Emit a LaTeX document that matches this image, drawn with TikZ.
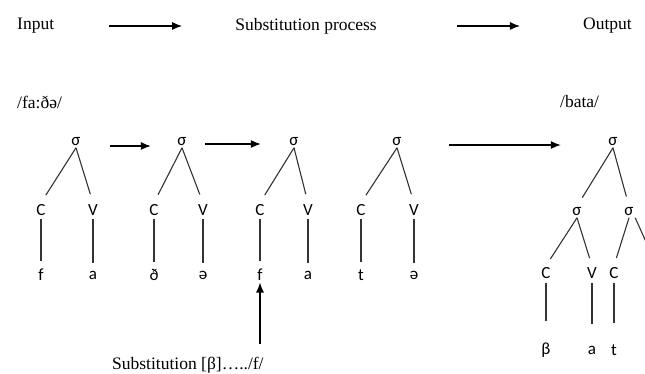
\documentclass[tikz,border=0pt]{standalone}
\usepackage{fontspec}
\setmainfont{Liberation Serif}
\newfontfamily\treefont{Carlito}
\usetikzlibrary{arrows.meta}
\tikzset{
  txt/.style={font=\fontsize{17.5}{20}\selectfont, inner sep=0pt},
  lab/.style={font=\treefont\fontsize{17}{19}\selectfont, inner sep=1.5pt},
  br/.style={line width=1.1pt, black!80},
  arr/.style={->, line width=1.1pt}
}
\begin{document}
\begin{tikzpicture}[x=1pt, y=-1pt, >={Latex[length=10pt,width=8pt]}]
\useasboundingbox (0,0) rectangle (645,374);

\node[txt, anchor=west] (in) at (17,26) {Input};
\node[txt] (sub) at (306,26) {Substitution process};
\node[txt, anchor=east] (out) at (632,26) {Output};
\draw[arr, shorten <=55pt, shorten >=53pt] (in) -- (sub);
\draw[arr, shorten <=80pt, shorten >=63pt] (sub) -- (out);

\node[txt, anchor=west] (uin) at (17,102) {/fa:ðə/};
\node[txt, anchor=west] (uout) at (560,102) {/bata/};

% input syllables
\node[lab] (s1) at (76,142) {σ};
\node[lab] (c1) at (41,210) {C};
\node[lab] (v1) at (93,210) {V};
\node[lab] (f1) at (41,275) {f};
\node[lab] (a1) at (93,275) {a};

\node[lab] (s2) at (182,142) {σ};
\node[lab] (c2) at (154,210) {C};
\node[lab] (v2) at (203,210) {V};
\node[lab] (f2) at (154,275) {ð};
\node[lab] (a2) at (203,275) {ə};

\node[lab] (s3) at (294,142) {σ};
\node[lab] (c3) at (260,210) {C};
\node[lab] (v3) at (308,210) {V};
\node[lab] (f3) at (260,275) {f};
\node[lab] (a3) at (308,275) {a};

\node[lab] (s4) at (397,142) {σ};
\node[lab] (c4) at (361,210) {C};
\node[lab] (v4) at (414,210) {V};
\node[lab] (f4) at (361,275) {t};
\node[lab] (a4) at (414,275) {ə};

\foreach \n in {1,2,3,4}{
  \draw[br, shorten >=9pt] (s\n.south) -- (c\n.north);
  \draw[br, shorten >=9pt] (s\n.south) -- (v\n.north);
  \draw[br, shorten <=2pt, shorten >=6pt] (c\n) -- (f\n);
  \draw[br, shorten <=2pt, shorten >=6pt] (v\n) -- (a\n);
}

% output syllables
\node[lab] (s5) at (613,142) {σ};
\node[lab] (s6) at (577,212) {σ};
\node[lab] (s7) at (629,212) {σ};
\node[lab] (c5) at (546,273) {C};
\node[lab] (v5) at (592,273) {V};
\node[lab] (c6) at (614,273) {C};
\node[lab] (b5) at (546,350) {β};
\node[lab] (a5) at (592,350) {a};
\node[lab] (t5) at (614,350) {t};
\coordinate (off) at (655,262);

\draw[br, shorten >=10pt] (s5.south) -- (s6.north);
\draw[br, shorten >=10pt] (s5.south) -- (s7.north);
\draw[br, shorten >=8pt] (s6.south) -- (c5.north);
\draw[br, shorten >=8pt] (s6.south) -- (v5.north);
\draw[br, shorten >=8pt] (s7.south) -- (c6.north);
\draw[br] (s7.south east) -- (off);
\draw[br, shorten <=3pt, shorten >=20pt] (c5) -- (b5);
\draw[br, shorten <=3pt, shorten >=20pt] (v5) -- (a5);
\draw[br, shorten <=3pt, shorten >=20pt] (c6) -- (t5);

\draw[arr, shorten <=28pt, shorten >=25pt] ([yshift=-4pt]s1.east) -- ([yshift=-4pt]s2.west);
\draw[arr, shorten <=17pt, shorten >=27pt] ([yshift=-2pt]s2.east) -- ([yshift=-2pt]s3.west);
\draw[arr, shorten <=46pt, shorten >=46pt] ([yshift=-3pt]s4.east) -- ([yshift=-3pt]s5.west);

\node[txt, anchor=base west] (rule) at (112,369) {Substitution [β]…../f/};
\draw[arr, shorten <=12pt] (rule.north east -| f3) -- (f3.south);
\end{tikzpicture}
\end{document}
